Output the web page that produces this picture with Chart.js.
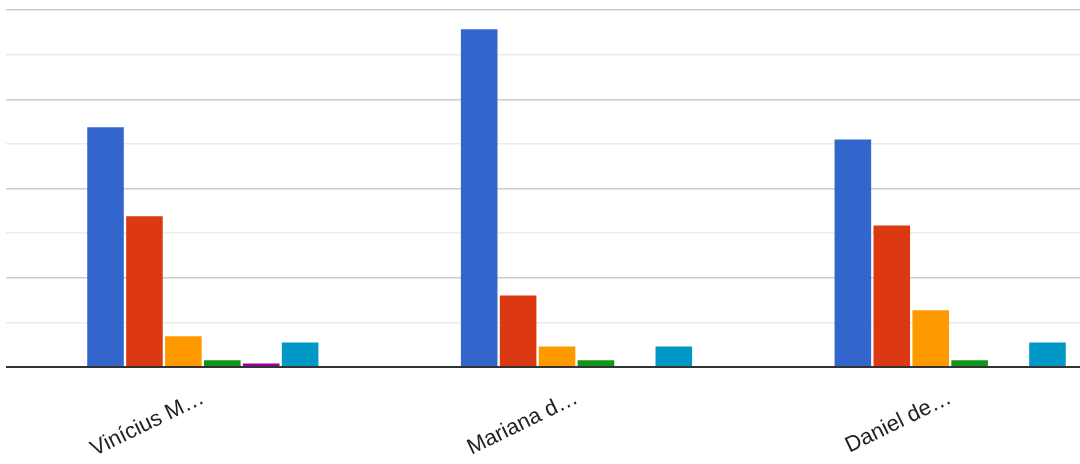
<!DOCTYPE html>
<html>
<head>
<meta charset="utf-8">
<script src="https://cdn.jsdelivr.net/npm/chart.js@4/dist/chart.umd.min.js"></script>
<style>
  html, body { margin:0; padding:0; background:#fff; overflow:hidden; }
  #wrap { width:1080px; height:464px; overflow:hidden; }
</style>
</head>
<body>
<div id="wrap"><canvas id="chart" width="1140" height="464"></canvas></div>
<script>
// categories (names are cut off in the original)
var names=["Vinícius M…", "Mariana d…", "Daniel de…"];
// one array per series
var serie1=[53.7, 75.7, 51.0];
var serie2=[33.8, 16.0, 31.7];
var serie3=[6.9, 4.6, 12.7];
var serie4=[1.5, 1.5, 1.5];
var serie5=[0.8, 0, 0];
var serie6=[5.5, 4.6, 5.5];
var colours=["#3366cc", "#dc3912", "#ff9900", "#109618", "#990099", "#0099c6"];
var yMax=80;
var yStep=10;

var series=[serie1, serie2, serie3, serie4, serie5, serie6];
var datasets=[];
for(var i=0;i<series.length;i++)
{
    datasets.push({
        label:"Série "+(i+1),
        data:series[i],
        backgroundColor:colours[i],
        borderWidth:0,
        barPercentage:0.94,
        categoryPercentage:0.625
    });
}

function gridColour(ctx)
{
    var v=ctx.tick ? ctx.tick.value : 0;
    if(v==0) return "#333333";
    if(v%20==0) return "#cccccc";
    return "#ebebeb";
}

var ctx=document.getElementById("chart");
var chart=new Chart(ctx,{
    type:'bar',
    data:{ labels:names, datasets:datasets },
    options:{
        responsive:false,
        animation:false,
        layout:{ padding:{ left:6, right:3, top:10, bottom:0 } },
        plugins:{ legend:{ display:false }, tooltip:{ enabled:false } },
        scales:{
            x:{
                grid:{ display:false },
                border:{ display:false },
                ticks:{
                    color:"#222222",
                    font:{ family:"'Liberation Sans', Arial, sans-serif", size:22 },
                    minRotation:26,
                    maxRotation:26,
                    padding:10,
                    autoSkip:false
                },
                afterFit:function(s){ s.height=97; }
            },
            y:{
                min:0,
                max:yMax,
                ticks:{ display:false, stepSize:yStep },
                border:{ display:false },
                grid:{
                    color:gridColour,
                    lineWidth:function(c){ return (c.tick && c.tick.value==0) ? 2 : 1.5; },
                    tickLength:10
                },
                afterFit:function(s){ s.width=10; }
            }
        }
    }
});
</script>
</body>
</html>
